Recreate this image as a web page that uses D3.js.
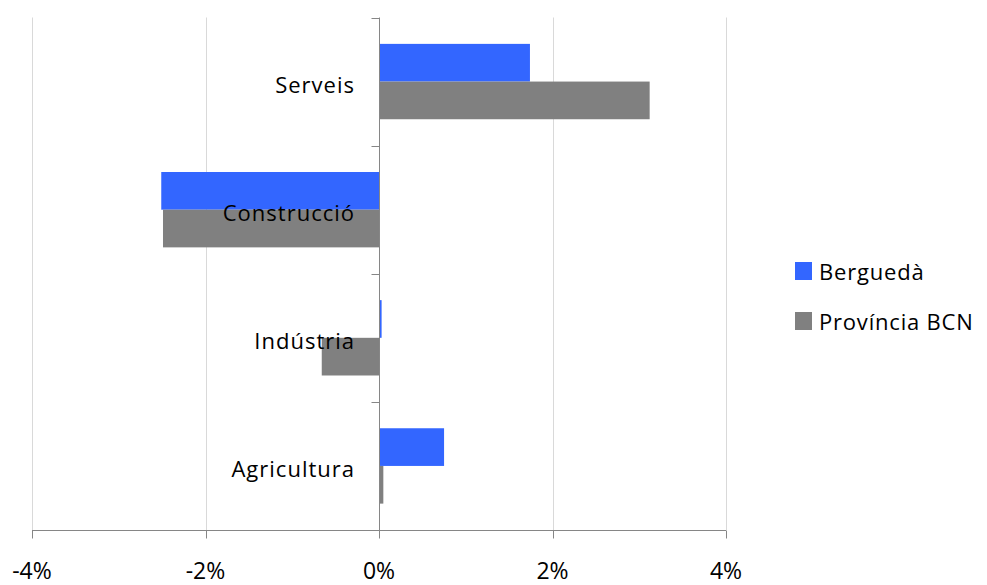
<!DOCTYPE html>
<html>
<head>
<meta charset="utf-8">
<script src="https://cdn.jsdelivr.net/npm/d3@7"></script>
<style>
  body { margin: 0; background: #fff; }
  text { font-family: "Open Sans", "Noto Sans", sans-serif; fill: #000; }
</style>
</head>
<body>
<div class="chart"></div>
<script>
var categories = ["Serveis", "Construcció", "Indústria", "Agricultura"];
var series = ["Berguedà", "Província BCN"];
var bergueda = [1.74, -2.51, 0.03, 0.75];
var provincia = [3.12, -2.49, -0.66, 0.05];
var xTicks = [-4, -2, 0, 2, 4];
var colors = ["#3366ff", "#808080"];

var values = [bergueda, provincia];

var width = 987, height = 585;
var margin = {top: 17.5, left: 32, right: 261, bottom: 55};

var svg = d3.select(".chart")
    .append("svg")
    .attr("width", width)
    .attr("height", height);

var x = d3.scaleLinear()
    .domain([-4, 4])
    .range([margin.left, width - margin.right]);

var y = d3.scaleBand()
    .domain(categories)
    .range([margin.top, height - margin.bottom]);

var ySub = d3.scaleBand()
    .domain(series)
    .range([0, y.bandwidth()])
    .paddingOuter(0.7);

// gridlines
svg.append("g")
  .selectAll("line")
  .data(xTicks.filter(function(d) { return d !== 0; }))
  .enter()
  .append("line")
    .attr("x1", function(d) { return Math.round(x(d)) + 0.5; })
    .attr("x2", function(d) { return Math.round(x(d)) + 0.5; })
    .attr("y1", margin.top)
    .attr("y2", height - margin.bottom)
    .attr("stroke", "#d9d9d9")
    .attr("stroke-width", 1);

// bars
series.forEach(function(s, i) {
  svg.append("g")
    .selectAll("rect")
    .data(categories)
    .enter()
    .append("rect")
      .attr("x", function(d, j) { return Math.min(x(0), x(values[i][j])); })
      .attr("width", function(d, j) { return Math.abs(x(values[i][j]) - x(0)); })
      .attr("y", function(d) { return y(d) + ySub(s); })
      .attr("height", ySub.bandwidth())
      .attr("fill", colors[i]);
});

// category axis at zero
var x0 = Math.round(x(0)) + 0.5;
svg.append("line")
    .attr("x1", x0).attr("x2", x0)
    .attr("y1", margin.top).attr("y2", height - margin.bottom)
    .attr("stroke", "#868686");

var bandEdges = categories.map(function(d) { return y(d); }).concat([height - margin.bottom]);
svg.append("g")
  .selectAll("line")
  .data(bandEdges)
  .enter()
  .append("line")
    .attr("x1", x0 - 8).attr("x2", x0)
    .attr("y1", function(d) { return Math.round(d) + 0.5; })
    .attr("y2", function(d) { return Math.round(d) + 0.5; })
    .attr("stroke", "#868686");

svg.append("g")
  .selectAll("text")
  .data(categories)
  .enter()
  .append("text")
    .attr("x", x(0) - 24)
    .attr("y", function(d) { return y(d) + y.bandwidth() / 2 + 11; })
    .attr("text-anchor", "end")
    .attr("font-size", "22px")
    .attr("letter-spacing", "1px")
    .text(function(d) { return d; });

// value axis at bottom
var yb = Math.round(height - margin.bottom) + 0.5;
svg.append("line")
    .attr("x1", x(-4)).attr("x2", x(4))
    .attr("y1", yb).attr("y2", yb)
    .attr("stroke", "#868686");

var xt = svg.append("g")
  .selectAll("g")
  .data(xTicks)
  .enter()
  .append("g");

xt.append("line")
    .attr("x1", function(d) { return Math.round(x(d)) + 0.5; })
    .attr("x2", function(d) { return Math.round(x(d)) + 0.5; })
    .attr("y1", yb).attr("y2", yb + 8)
    .attr("stroke", "#868686");

xt.append("text")
    .attr("x", function(d) { return x(d); })
    .attr("y", 579)
    .attr("text-anchor", "middle")
    .attr("font-size", "23px")
    .text(function(d) { return d + "%"; });

// legend
var legend = svg.append("g")
  .selectAll("g")
  .data(series)
  .enter()
  .append("g")
    .attr("transform", function(d, i) { return "translate(795," + (280 + i * 50) + ")"; });

legend.append("rect")
    .attr("x", 0).attr("y", -18)
    .attr("width", 17).attr("height", 18)
    .attr("fill", function(d, i) { return colors[i]; });

legend.append("text")
    .attr("x", 24)
    .attr("y", 0)
    .attr("font-size", "22px")
    .attr("letter-spacing", "0.8px")
    .text(function(d) { return d; });
</script>
</body>
</html>
